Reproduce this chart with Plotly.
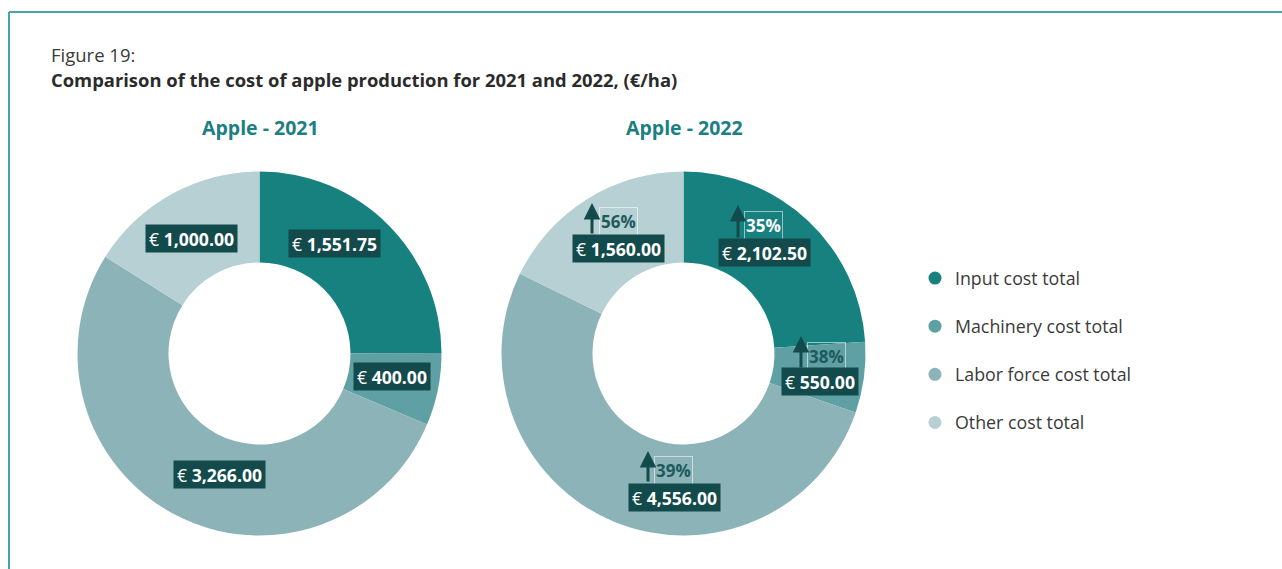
import plotly.graph_objects as go

# ---- data -------------------------------------------------------------
categories = ["Input cost total", "Machinery cost total",
              "Labor force cost total", "Other cost total"]
cost_2021 = [1551.75, 400.00, 3266.00, 1000.00]
cost_2022 = [2102.50, 550.00, 4556.00, 1560.00]

colors = ["#16817f", "#5fa0a5", "#8cb4b8", "#b7d0d4"]
label_bg = "#134a4c"
teal_title = "#1b8081"
font_family = "Open Sans"

W, H = 1282, 569


def px(x):
    return x / W


def py(y):
    return 1 - y / H


# donut geometry (pixels)
R = 182
centers = {"2021": (259.5, 353.5), "2022": (683.5, 353.5)}

# value-label box centres (pixels), one per slice
label_pos_2021 = [(334, 243), (392, 376), (219, 474.5), (191.5, 238.5)]
label_pos_2022 = [(764.5, 252.5), (820, 381.5), (674.5, 497), (618.5, 248.5)]
# change boxes: centre, arrow x, arrow tip y, arrow tail y
pct_pos = [((763.5, 225.5), 738, 205, 239),
           ((826, 356), 801, 336, 369),
           ((673, 470), 648, 451, 483),
           ((618, 221.5), 592, 203, 235)]

fig = go.Figure()

for year, values in (("2021", cost_2021), ("2022", cost_2022)):
    cx, cy = centers[year]
    fig.add_trace(go.Pie(
        labels=categories, values=values, hole=0.5, sort=False,
        direction="clockwise", rotation=0,
        marker=dict(colors=colors, line=dict(width=0)),
        textinfo="none", hoverinfo="label+value", showlegend=False,
        domain=dict(x=[px(cx - R), px(cx + R)], y=[py(cy + R), py(cy - R)]),
    ))

# legend entries drawn as round markers
for name, col in zip(categories, colors):
    fig.add_trace(go.Scatter(
        x=[None], y=[None], mode="markers", name=name, legendgroup=name,
        marker=dict(symbol="circle", size=13, color=col),
    ))

annotations = []


def fmt(v):
    return f"€ <b>{v:,.2f}</b>"


# percentage change boxes with arrows (drawn before the value labels)
for i, ((tx, ty), ax_, tip, tail) in enumerate(pct_pos):
    change = int((cost_2022[i] / cost_2021[i] - 1) * 100 + 0.5)
    annotations.append(dict(
        x=px(tx), y=py(ty), xref="paper", yref="paper",
        text=f"<b>{change}%</b>", showarrow=False,
        font=dict(family=font_family, size=17,
                  color="#ffffff" if i == 0 else "#1e5a5c"),
        width=35, height=25, borderpad=1, borderwidth=1,
        bordercolor="rgba(255,255,255,0.55)", bgcolor="rgba(0,0,0,0)",
        xanchor="center", yanchor="middle",
    ))
    annotations.append(dict(
        x=px(ax_), y=py(tip), xref="paper", yref="paper", text="",
        showarrow=True, ax=0, ay=tail - tip, axref="pixel", ayref="pixel",
        arrowhead=2, arrowsize=1.1, arrowwidth=3, arrowcolor=label_bg,
        standoff=0, startstandoff=0,
    ))

for values, positions in ((cost_2021, label_pos_2021), (cost_2022, label_pos_2022)):
    for v, (lx, ly) in zip(values, positions):
        annotations.append(dict(
            x=px(lx), y=py(ly), xref="paper", yref="paper",
            text=fmt(v), showarrow=False, bgcolor=label_bg, borderpad=3,
            height=21,
            font=dict(family=font_family, size=17.6, color="#ffffff"),
            xanchor="center", yanchor="middle",
        ))

# titles
annotations += [
    dict(x=px(49), y=py(55), xref="paper", yref="paper", text="Figure 19:",
         showarrow=False, xanchor="left", yanchor="middle",
         font=dict(family=font_family, size=18.5, color="#3a3a3a")),
    dict(x=px(49), y=py(80), xref="paper", yref="paper",
         text="<b>Comparison of the cost of apple production for 2021 and 2022, (€/ha)</b>",
         showarrow=False, xanchor="left", yanchor="middle",
         font=dict(family=font_family, size=18.4, color="#2b2b2b")),
    dict(x=px(260.5), y=py(128), xref="paper", yref="paper", text="<b>Apple - 2021</b>",
         showarrow=False, xanchor="center", yanchor="middle",
         font=dict(family=font_family, size=19.5, color=teal_title)),
    dict(x=px(684), y=py(128), xref="paper", yref="paper", text="<b>Apple - 2022</b>",
         showarrow=False, xanchor="center", yanchor="middle",
         font=dict(family=font_family, size=19.5, color=teal_title)),
]

# frame lines along the top and left edges
shapes = [
    dict(type="line", xref="paper", yref="paper", x0=px(9), x1=1.0, y0=py(12), y1=py(12),
         line=dict(color="#45a6a6", width=2)),
    dict(type="line", xref="paper", yref="paper", x0=px(9), x1=px(9), y0=py(12), y1=0,
         line=dict(color="#45a6a6", width=2)),
]

fig.update_layout(
    width=W, height=H, autosize=False,
    margin=dict(l=0, r=0, t=0, b=0),
    paper_bgcolor="#ffffff", plot_bgcolor="rgba(0,0,0,0)",
    xaxis=dict(visible=False), yaxis=dict(visible=False),
    annotations=annotations, shapes=shapes,
    legend=dict(x=px(915), y=py(260), xanchor="left", yanchor="top",
                font=dict(family=font_family, size=17.8, color="#3a3a3a"),
                tracegroupgap=22, itemclick=False, itemdoubleclick=False,
                bgcolor="rgba(0,0,0,0)"),
    showlegend=True,
    font=dict(family=font_family),
)

fig.write_html("out.html")
